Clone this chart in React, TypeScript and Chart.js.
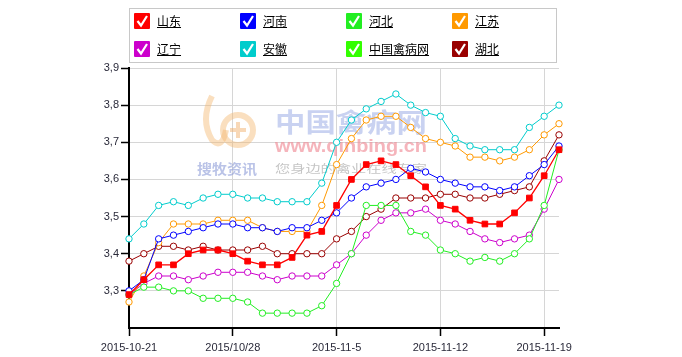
import React, { useEffect, useRef } from "react";
import { Chart, registerables } from "chart.js";

Chart.register(...registerables);

const categories = [
  "2015-10-21", "2015-10-22", "2015-10-23", "2015-10-24", "2015-10-25", "2015-10-26", "2015-10-27",
  "2015/10/28", "2015-10-29", "2015-10-30", "2015-10-31", "2015-11-1", "2015-11-2", "2015-11-3",
  "2015-11-5", "2015-11-6", "2015-11-7", "2015-11-8", "2015-11-9", "2015-11-10", "2015-11-11",
  "2015-11-12", "2015-11-13", "2015-11-14", "2015-11-15", "2015-11-16", "2015-11-17", "2015-11-18",
  "2015-11-19", "2015-11-20",
];
const labeledTickIndices = [0, 7, 14, 21, 28];

const shandong = [3.29, 3.33, 3.37, 3.37, 3.40, 3.41, 3.41, 3.40, 3.38, 3.37, 3.37, 3.39, 3.45, 3.46, 3.53, 3.60, 3.64, 3.65, 3.64, 3.61, 3.58, 3.53, 3.52, 3.49, 3.48, 3.48, 3.51, 3.55, 3.61, 3.68];
const henan = [3.30, 3.33, 3.44, 3.45, 3.46, 3.47, 3.48, 3.48, 3.47, 3.47, 3.46, 3.47, 3.47, 3.49, 3.51, 3.55, 3.58, 3.59, 3.60, 3.63, 3.62, 3.60, 3.59, 3.58, 3.58, 3.57, 3.58, 3.61, 3.64, 3.69];
const hebei = [3.29, 3.31, 3.31, 3.30, 3.30, 3.28, 3.28, 3.28, 3.27, 3.24, 3.24, 3.24, 3.24, 3.26, 3.32, 3.40, 3.53, 3.53, 3.53, 3.46, 3.45, 3.41, 3.40, 3.38, 3.39, 3.38, 3.40, 3.44, 3.53, 3.68];
const jiangsu = [3.27, 3.34, 3.43, 3.48, 3.48, 3.48, 3.49, 3.49, 3.49, 3.47, 3.46, 3.46, 3.46, 3.53, 3.64, 3.71, 3.76, 3.77, 3.77, 3.74, 3.71, 3.70, 3.69, 3.66, 3.66, 3.65, 3.66, 3.68, 3.72, 3.75];
const liaoning = [3.29, 3.32, 3.34, 3.34, 3.33, 3.34, 3.35, 3.35, 3.35, 3.34, 3.33, 3.34, 3.34, 3.34, 3.37, 3.40, 3.45, 3.49, 3.51, 3.51, 3.52, 3.49, 3.48, 3.46, 3.44, 3.43, 3.44, 3.45, 3.52, 3.60];
const anhui = [3.44, 3.48, 3.53, 3.54, 3.53, 3.55, 3.56, 3.56, 3.55, 3.55, 3.54, 3.54, 3.54, 3.59, 3.70, 3.76, 3.79, 3.81, 3.83, 3.80, 3.78, 3.77, 3.71, 3.69, 3.68, 3.68, 3.68, 3.74, 3.77, 3.80];
const zhongguoQinbing: number[] = [];
const hubei = [3.38, 3.40, 3.42, 3.42, 3.41, 3.42, 3.41, 3.41, 3.41, 3.42, 3.40, 3.40, 3.40, 3.40, 3.44, 3.46, 3.50, 3.52, 3.55, 3.55, 3.55, 3.56, 3.56, 3.55, 3.55, 3.56, 3.57, 3.58, 3.65, 3.72];

const seriesNames = ["山东", "河南", "河北", "江苏", "辽宁", "安徽", "中国禽病网", "湖北"];
const seriesColors = ["#ff0000", "#0000ff", "#22ee22", "#ff9900", "#cc00cc", "#00cccc", "#33ff00", "#990000"];
const seriesData = [shandong, henan, hebei, jiangsu, liaoning, anhui, zhongguoQinbing, hubei];

const yMin = 3.2;
const yMax = 3.9;
const yStep = 0.1;

const FONT = "'Liberation Sans', Arial, sans-serif";

const watermarkPlugin = {
  id: "watermark",
  beforeDatasetsDraw(chart: any) {
    const ctx: CanvasRenderingContext2D = chart.ctx;
    ctx.save();
    const fitText = (text: string, font: string, color: string, x: number, y: number, w: number) => {
      ctx.font = font;
      ctx.fillStyle = color;
      ctx.textBaseline = "middle";
      ctx.textAlign = "left";
      const m = ctx.measureText(text).width;
      ctx.save();
      ctx.translate(x, y);
      ctx.scale(w / m, 1);
      ctx.fillText(text, 0, 0);
      ctx.restore();
    };
    // logo approximation
    ctx.globalAlpha = 0.45;
    ctx.strokeStyle = "#f5b870";
    ctx.lineWidth = 6;
    ctx.beginPath();
    ctx.arc(238, 130, 15, 0, Math.PI * 2);
    ctx.stroke();
    ctx.beginPath();
    ctx.moveTo(212, 96);
    ctx.quadraticCurveTo(200, 120, 212, 140);
    ctx.quadraticCurveTo(222, 150, 226, 130);
    ctx.stroke();
    ctx.strokeStyle = "#f0a860";
    ctx.lineWidth = 4;
    ctx.beginPath();
    ctx.moveTo(238, 122);
    ctx.lineTo(238, 138);
    ctx.moveTo(230, 130);
    ctx.lineTo(246, 130);
    ctx.stroke();
    ctx.globalAlpha = 1;
    fitText("中国禽病网", "bold 26px 'Noto Sans CJK SC', sans-serif", "rgba(165,180,232,0.6)", 275, 122, 152);
    fitText("www.qinbing.cn", "bold 18px " + FONT, "rgba(240,140,150,0.65)", 275, 147, 152);
    fitText("搜牧资讯", "bold 14px 'Noto Sans CJK SC', sans-serif", "rgba(140,155,215,0.6)", 197, 169, 60);
    fitText("您身边的禽业在线专家", "11px 'Noto Sans CJK SC', serif", "rgba(150,150,150,0.55)", 275, 169, 152);
    ctx.restore();
  },
};

function Legend() {
  return (
    <div
      style={{
        position: "absolute",
        left: 129,
        top: 8,
        width: 426,
        height: 53,
        border: "1px solid #c8c8c8",
        boxSizing: "content-box",
      }}
    >
      {seriesNames.map((name, i) => {
        const col = i % 4;
        const row = Math.floor(i / 4);
        return (
          <div key={name}>
            <svg
              width={16}
              height={16}
              style={{ position: "absolute", left: 4 + col * 106, top: 4 + row * 28 }}
            >
              <rect x={0} y={0} width={16} height={16} rx={1} fill={seriesColors[i]} />
              <polyline points="3.5,8 7,12.5 13,3" fill="none" stroke="#fff" strokeWidth={2.2} />
            </svg>
            <span
              style={{
                position: "absolute",
                left: 27 + col * 106,
                top: 4 + row * 28,
                fontSize: 12,
                lineHeight: "16px",
                fontFamily: "'Noto Sans CJK SC', sans-serif",
                color: "#000",
                textDecoration: "underline",
                whiteSpace: "nowrap",
              }}
            >
              {name}
            </span>
          </div>
        );
      })}
    </div>
  );
}

export default function App() {
  const canvasRef = useRef<HTMLCanvasElement | null>(null);

  useEffect(() => {
    document.body.style.margin = "0";
    const canvas = canvasRef.current;
    if (!canvas) return;

    const datasets = seriesNames.map((name, i) => {
      const isRect = i === 0;
      return {
        label: name,
        data: seriesData[i],
        borderColor: seriesColors[i],
        backgroundColor: seriesColors[i],
        borderWidth: isRect ? 1.3 : 1,
        pointStyle: isRect ? "rect" : "circle",
        pointRadius: isRect ? 4 : 3.2,
        pointBorderWidth: 1,
        pointBackgroundColor: isRect ? seriesColors[i] : "#ffffff",
        pointBorderColor: seriesColors[i],
        tension: 0,
        fill: false,
      };
    });

    const chart = new Chart(canvas, {
      type: "line",
      data: { labels: categories, datasets: datasets as any },
      plugins: [watermarkPlugin],
      options: {
        animation: false,
        responsive: false,
        maintainAspectRatio: false,
        layout: { padding: { left: 89, right: 123, top: 68, bottom: 0 } },
        plugins: { legend: { display: false }, tooltip: { enabled: false } },
        scales: {
          x: {
            type: "category",
            offset: false,
            border: { color: "#000", width: 2 },
            grid: {
              color: (c: any) =>
                labeledTickIndices.includes(c.index) && c.index > 0 ? "#d6d6d6" : "rgba(0,0,0,0)",
              tickColor: (c: any) => (labeledTickIndices.includes(c.index) ? "#000" : "rgba(0,0,0,0)"),
              tickLength: 8,
              tickWidth: 1.5,
              lineWidth: 1,
            },
            ticks: {
              autoSkip: false,
              maxRotation: 0,
              minRotation: 0,
              padding: 5,
              color: "#2a2a3a",
              font: { family: FONT, size: 11 },
              callback: (_v: any, i: number) => (labeledTickIndices.includes(i) ? categories[i] : ""),
            },
            afterFit: (s: any) => {
              s.height = 29;
            },
          },
          y: {
            min: yMin,
            max: yMax,
            border: { color: "#000", width: 2 },
            grid: {
              color: (c: any) => (c.tick && c.tick.value < yMin + yStep / 2 ? "rgba(0,0,0,0)" : "#d6d6d6"),
              tickColor: (c: any) => (c.tick && c.tick.value < yMin + yStep / 2 ? "rgba(0,0,0,0)" : "#000"),
              tickLength: 8,
              tickWidth: 1.5,
              lineWidth: 1,
            },
            ticks: {
              stepSize: yStep,
              padding: 2,
              color: "#2a2a3a",
              font: { family: FONT, size: 11 },
              callback: (v: any) => (Number(v) < yMin + yStep / 2 ? "" : Number(v).toFixed(1).replace(".", ",")),
            },
            afterFit: (s: any) => {
              s.width = 40;
            },
          },
        },
      } as any,
    });

    return () => {
      chart.destroy();
    };
  }, []);

  return (
    <div style={{ position: "relative", width: 682, height: 357, background: "#fff" }}>
      <canvas ref={canvasRef} width={682} height={357} style={{ position: "absolute", left: 0, top: 0, width: 682, height: 357 }} />
      <Legend />
    </div>
  );
}
